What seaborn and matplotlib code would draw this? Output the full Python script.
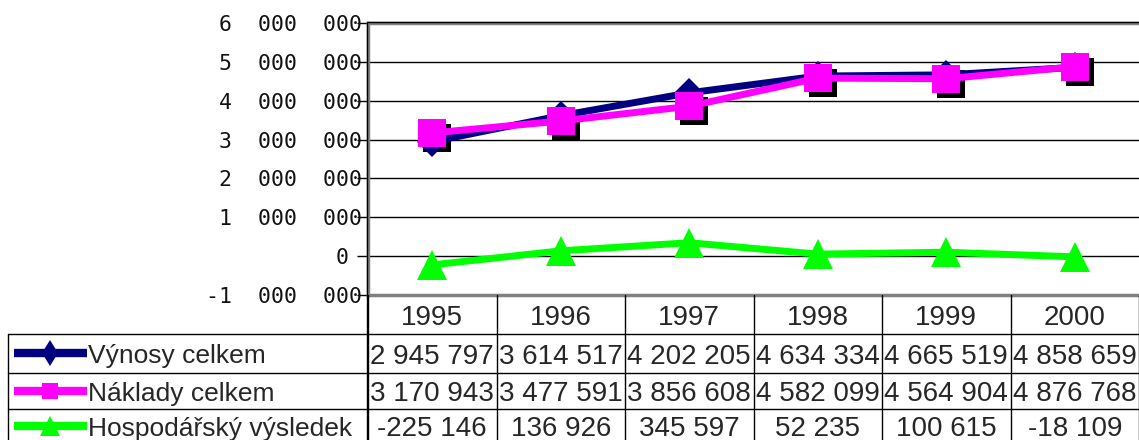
import numpy as np
import seaborn as sns
import matplotlib.pyplot as plt
from matplotlib.transforms import offset_copy, blended_transform_factory

# data
years = ['1995', '1996', '1997', '1998', '1999', '2000']
vynosy = [2945797, 3614517, 4202205, 4634334, 4665519, 4858659]
naklady = [3170943, 3477591, 3856608, 4582099, 4564904, 4876768]
vysledek = [-225146, 136926, 345597, 52235, 100615, -18109]
names = ['Výnosy celkem', 'Náklady celkem', 'Hospodářský výsledek']
yticks = [-1000000, 0, 1000000, 2000000, 3000000, 4000000, 5000000, 6000000]

colors = ['#000080', '#FF00FF', '#00FF00']
markers = ['D', 's', '^']
sizes = [15, 19.5, 21.5]
key_markers = ['d', 's', '^']
key_sizes = [13, 11, 14]

W, H = 1139, 440
sns.set_style('white')
plt.rcParams['font.family'] = ['Liberation Sans', 'DejaVu Sans']

fig = plt.figure(figsize=(W / 100, H / 100), dpi=100)
x0, x1, y0, y1 = 368, 1139, 23, 295
ax = fig.add_axes([x0 / W, 1 - y1 / H, (x1 - x0) / W, (y1 - y0) / H])

xs = np.arange(len(years))
series = [vynosy, naklady, vysledek]

# shadow of the square markers
shadow = offset_copy(ax.transData, fig=fig, x=5, y=-5, units='dots')
ax.plot(xs, naklady, linestyle='none', marker='s', ms=19.5, color='black',
        mew=0, transform=shadow, zorder=2)

for i, vals in enumerate(series):
    sns.lineplot(x=xs, y=vals, ax=ax, color=colors[i], lw=5, marker=markers[i],
                 ms=sizes[i], mew=0, mec=colors[i], zorder=3 + i)

ax.set_xlim(-0.5, len(years) - 0.5)
ax.set_ylim(-1000000, 6000000)
ax.set_xticks([])
ax.set_yticks(yticks)
ax.set_yticklabels([f"{v:,}".replace(',', '  ') if v != 0 else '0 ' for v in yticks])
for lab in ax.get_yticklabels():
    lab.set_family('DejaVu Sans Mono')
ax.tick_params(axis='y', left=True, length=8, width=1, color='black',
               direction='out', pad=-4, labelsize=15.5, labelcolor='#111111')
ax.grid(axis='y', color='black', lw=1, zorder=1)
ax.set_axisbelow(True)
ax.set_xlabel('')
ax.set_ylabel('')
for s in ['left', 'top', 'bottom']:
    ax.spines[s].set_color('#808080')
    ax.spines[s].set_linewidth(2.5)
ax.spines['right'].set_visible(False)

# data table under the chart
ov = fig.add_axes([0, 0, 1, 1], zorder=10)
ov.set_xlim(0, W)
ov.set_ylim(H, 0)
ov.axis('off')
tr = blended_transform_factory(ax.transData, ov.transData)

row_lines = [334, 373, 409]
row_mid = [353.5, 391, 426.5]
ov.plot([367, 367], [y0, H], color='black', lw=1)
ov.plot([367, W], [y0 - 1, y0 - 1], color='black', lw=1)
for k in range(len(years) + 1):
    ov.plot([k - 0.5, k - 0.5], [y1, H], color='black', lw=1, transform=tr)
for yl in row_lines:
    ov.plot([8, W], [yl, yl], color='black', lw=1)
ov.plot([8, 8], [row_lines[0], H], color='black', lw=1)

for i, yr in enumerate(years):
    ov.text(i, 315, yr, transform=tr, ha='center', va='center_baseline', fontsize=20)

for r, vals in enumerate(series):
    ym = row_mid[r]
    ov.plot([14, 87], [ym, ym], color=colors[r], lw=6, solid_capstyle='butt')
    ov.plot([50], [ym], marker=key_markers[r], ms=key_sizes[r], color=colors[r], mew=0)
    ov.text(88, ym, names[r], ha='left', va='center_baseline', fontsize=19)
    for i, v in enumerate(vals):
        ov.text(i, ym, f"{v:,}".replace(',', ' '), transform=tr,
                ha='center', va='center_baseline', fontsize=20)

fig.savefig('out.png', dpi=100)
